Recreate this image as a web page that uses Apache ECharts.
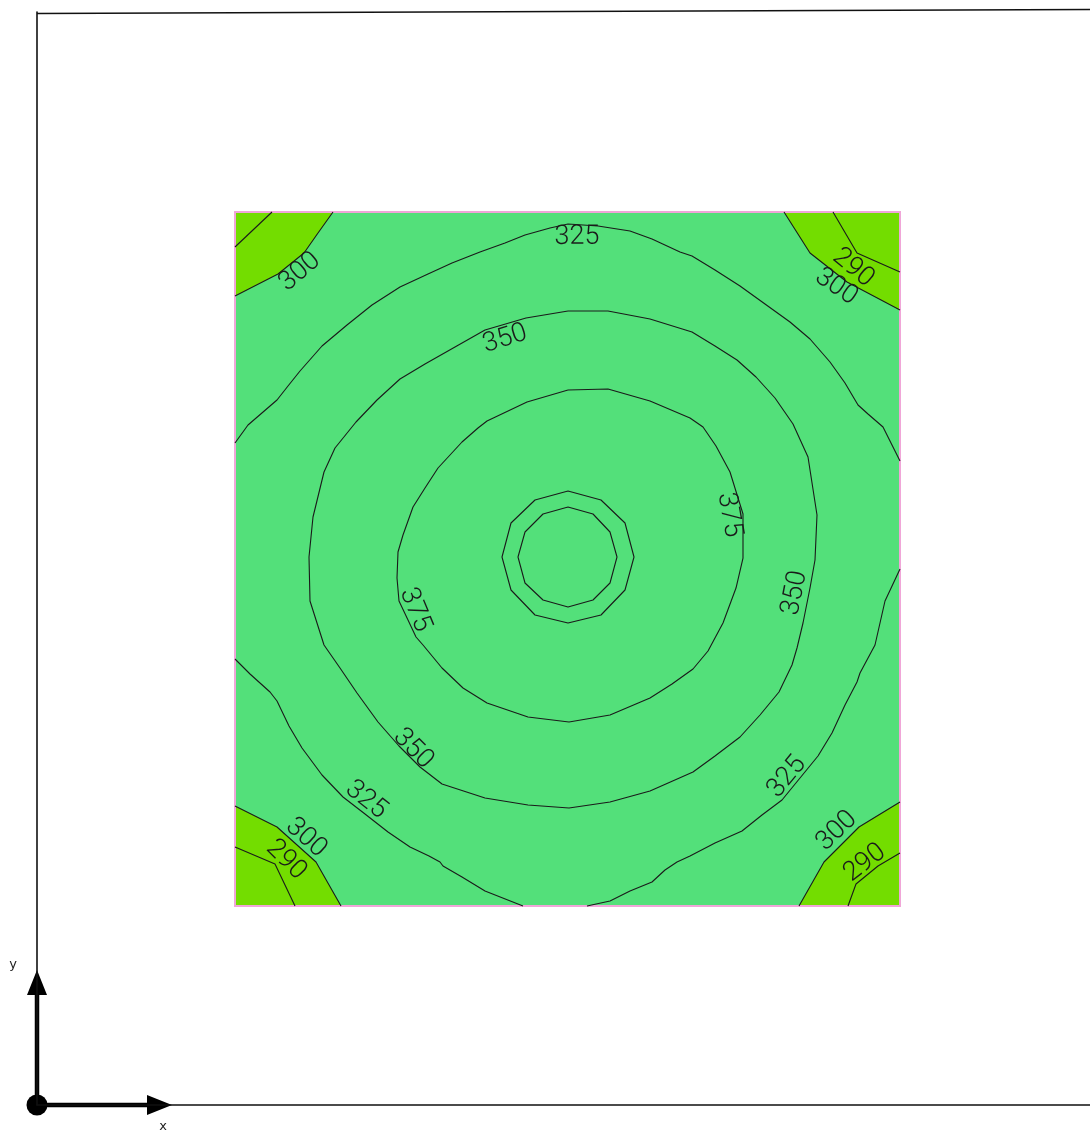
<!DOCTYPE html>
<html>
<head>
<meta charset="utf-8">
<title>Plate contour</title>
<script src="https://cdn.jsdelivr.net/npm/echarts@6/dist/echarts.min.js"></script>
<style>
  html, body { margin: 0; padding: 0; background: #ffffff; }
  #chart { width: 1090px; height: 1132px; }
</style>
</head>
<body>
<div id="chart"></div>
<script>
// ---- Model extents (model units, origin at the axis triad) ----
const viewX = [-198, 855];
const viewY = [-199, 894];
const plateWidth = 665;
const plateHeight = 694;

// ---- Contour polylines [x, y] in plate coordinates ----
const c290TopLeft = [[37,694],[0,659]];
const c300TopLeft = [[98,694],[83,673],[69,653],[43,632],[0,610]];
const c290TopRight = [[598,694],[622,653],[665,634]];
const c300TopRight = [[549,694],[575,653],[612,624],[665,596]];
const c290BottomLeft = [[0,59],[40,42],[60,0]];
const c300BottomLeft = [[0,100],[42,79],[81,44],[106,0]];
const c290BottomRight = [[613,0],[621,22],[643,40],[665,53]];
const c300BottomRight = [[564,0],[589,44],[624,79],[665,104]];

const c325Upper = [[0,463],[13,481],[42,506],[53,520],[65,535],[87,560],[112,581],[137,601],[165,619],[193,632],[217,643],[245,654],[270,663],[290,671],[315,678],[333,682],[363,680],[395,675],[417,667],[445,654],[457,650],[480,636],[505,620],[530,602],[555,584],[575,567],[595,544],[610,523],[623,501],[633,492],[648,479],[665,445]];
const c325LowerLeft = [[0,247],[15,232],[35,214],[42,205],[54,180],[67,158],[87,131],[108,109],[130,92],[153,74],[175,59],[194,50],[205,44],[208,40],[227,29],[250,15],[288,0]];
const c325LowerRight = [[352,0],[375,5],[395,15],[417,24],[430,36],[442,44],[455,50],[480,63],[507,75],[527,91],[547,106],[565,128],[583,150],[597,173],[610,201],[622,224],[625,233],[640,261],[650,305],[665,337]];

const c350 = [[333,595],[373,595],[415,587],[457,574],[480,560],[502,546],[521,529],[540,508],[558,482],[573,449],[582,391],[580,346],[575,318],[568,283],[562,258],[557,241],[544,214],[525,191],[505,169],[480,150],[458,134],[415,115],[375,104],[334,98],[293,101],[250,108],[207,122],[185,139],[164,160],[143,184],[122,213],[105,238],[89,261],[75,305],[74,349],[78,389],[89,434],[100,458],[121,484],[142,506],[165,527],[190,542],[220,559],[250,576],[291,588]];
const c375 = [[333,516],[373,517],[415,505],[455,488],[468,479],[481,460],[495,434],[508,392],[508,348],[501,318],[488,283],[473,255],[458,237],[437,222],[415,208],[375,191],[334,184],[293,189],[252,203],[228,218],[207,238],[188,261],[181,269],[173,286],[164,305],[162,328],[163,354],[168,371],[178,399],[190,418],[203,438],[227,464],[243,478],[252,485],[292,504]];
const cRingOuter = [[333,415],[366,406],[390,383],[399,349],[390,316],[366,291],[333,283],[300,291],[276,316],[267,349],[276,383],[300,406]];
const cRingInner = [[333,399],[358,392],[375,374],[382,349],[375,323],[358,306],[333,299],[308,306],[290,323],[283,349],[290,374],[308,392]];

// ---- Contour labels: level and anchor point ----
const labelLevels = [325, 300, 290, 300, 350, 375, 375, 350, 350, 325, 325, 300, 290, 300, 290];
const labelAnchors = [[342,669],[65,634],[618,638],[601,619],[270,567],[494,391],[180,296],[560,313],[178,157],[131,106],[552,129],[71,68],[51,46],[602,75],[630,43]];

// Level at which the fill colour changes
const bandBreak = 300;

const contours = [
  { level: 290, closed: false, points: c290TopLeft },
  { level: 300, closed: false, points: c300TopLeft },
  { level: 290, closed: false, points: c290TopRight },
  { level: 300, closed: false, points: c300TopRight },
  { level: 290, closed: false, points: c290BottomLeft },
  { level: 300, closed: false, points: c300BottomLeft },
  { level: 290, closed: false, points: c290BottomRight },
  { level: 300, closed: false, points: c300BottomRight },
  { level: 325, closed: false, points: c325Upper },
  { level: 325, closed: false, points: c325LowerLeft },
  { level: 325, closed: false, points: c325LowerRight },
  { level: 350, closed: true, points: c350 },
  { level: 375, closed: true, points: c375 },
  { level: 400, closed: true, points: cRingOuter },
  { level: 410, closed: true, points: cRingInner }
];

const COLOR_HIGH = '#53e07a';
const COLOR_LOW = '#73dd00';
const COLOR_EDGE = '#f0a6d8';
const COLOR_LINE = '#1a1a1a';

const chart = echarts.init(document.getElementById('chart'), null, { renderer: 'canvas' });

const plateCorners = [[0,0],[plateWidth,0],[plateWidth,plateHeight],[0,plateHeight]];

function closedPoints(c) {
  return c.closed ? c.points.concat([c.points[0]]) : c.points;
}

// Low band patches: the 300 contour closed off by the nearest plate corner
function lowPatches() {
  return contours.filter(c => c.level === bandBreak).map(c => {
    const start = c.points[0];
    let best = plateCorners[0], bd = Infinity;
    plateCorners.forEach(k => {
      const d = Math.hypot(k[0] - start[0], k[1] - start[1]);
      if (d < bd) { bd = d; best = k; }
    });
    return [best].concat(c.points);
  });
}

function renderFill(params, api) {
  const toPx = p => api.coord(p);
  const children = [];
  children.push({
    type: 'polygon',
    shape: { points: plateCorners.map(toPx) },
    style: { fill: COLOR_HIGH, stroke: null }
  });
  lowPatches().forEach(poly => {
    children.push({
      type: 'polygon',
      shape: { points: poly.map(toPx) },
      style: { fill: COLOR_LOW, stroke: null }
    });
  });
  children.push({
    type: 'polygon',
    shape: { points: plateCorners.map(toPx) },
    style: { fill: null, stroke: COLOR_EDGE, lineWidth: 2 }
  });
  return { type: 'group', children };
}

// Nearest point on a pixel polyline, returned as arc length
function nearestOnPolyline(pix, P) {
  const cum = [0];
  for (let i = 1; i < pix.length; i++) {
    cum.push(cum[i - 1] + Math.hypot(pix[i][0] - pix[i - 1][0], pix[i][1] - pix[i - 1][1]));
  }
  let bestD = Infinity, bestS = 0;
  for (let i = 0; i < pix.length - 1; i++) {
    const a = pix[i], b = pix[i + 1];
    const dx = b[0] - a[0], dy = b[1] - a[1];
    const L2 = dx * dx + dy * dy;
    let t = L2 > 0 ? ((P[0] - a[0]) * dx + (P[1] - a[1]) * dy) / L2 : 0;
    t = Math.max(0, Math.min(1, t));
    const qx = a[0] + t * dx, qy = a[1] + t * dy;
    const d = Math.hypot(P[0] - qx, P[1] - qy);
    if (d < bestD) { bestD = d; bestS = cum[i] + t * Math.sqrt(L2); }
  }
  return { d: bestD, s: bestS, cum };
}

function pointAt(pix, cum, s) {
  s = Math.max(0, Math.min(cum[cum.length - 1], s));
  for (let i = 1; i < pix.length; i++) {
    if (s <= cum[i] || i === pix.length - 1) {
      const seg = cum[i] - cum[i - 1] || 1;
      const t = (s - cum[i - 1]) / seg;
      return [pix[i - 1][0] + t * (pix[i][0] - pix[i - 1][0]), pix[i - 1][1] + t * (pix[i][1] - pix[i - 1][1])];
    }
  }
  return pix[pix.length - 1];
}

// Label follows the chord of its contour over the label's extent
function labelRotation(api, P, level) {
  let best = null;
  contours.filter(c => c.level === level).forEach(c => {
    const pix = closedPoints(c).map(p => api.coord(p));
    const n = nearestOnPolyline(pix, P);
    if (!best || n.d < best.n.d) best = { n, pix };
  });
  if (!best) return 0;
  const half = 21;
  const a = pointAt(best.pix, best.n.cum, best.n.s - half);
  const b = pointAt(best.pix, best.n.cum, best.n.s + half);
  let ang = Math.atan2(-(b[1] - a[1]), b[0] - a[0]);
  if (ang > Math.PI / 2) ang -= Math.PI;
  if (ang <= -Math.PI / 2) ang += Math.PI;
  return ang;
}

function renderLabel(params, api) {
  const level = api.value(2);
  const P = api.coord([api.value(0), api.value(1)]);
  return {
    type: 'text',
    x: P[0],
    y: P[1],
    rotation: labelRotation(api, P, level),
    style: {
      text: String(level),
      fill: COLOR_LINE,
      fontFamily: 'Roboto',
      fontWeight: 300,
      fontSize: 27,
      align: 'center',
      verticalAlign: 'middle'
    }
  };
}

const lineSeries = contours.map(c => ({
  type: 'line',
  name: String(c.level),
  data: closedPoints(c),
  showSymbol: false,
  symbol: 'none',
  silent: true,
  clip: false,
  z: 3,
  lineStyle: { color: COLOR_LINE, width: 1.1 },
  animation: false
}));

chart.setOption({
  animation: false,
  backgroundColor: '#ffffff',
  grid: { left: 37, right: 0, top: 12, bottom: 27, containLabel: false },
  xAxis: {
    type: 'value', min: viewX[0], max: viewX[1],
    axisLine: { show: true, onZero: false, lineStyle: { color: '#111', width: 1.6 } },
    axisTick: { show: false }, axisLabel: { show: false }, splitLine: { show: false }
  },
  yAxis: {
    type: 'value', min: viewY[0], max: viewY[1],
    axisLine: { show: true, onZero: false, lineStyle: { color: '#111', width: 1.6 } },
    axisTick: { show: false }, axisLabel: { show: false }, splitLine: { show: false }
  },
  series: [
    {
      type: 'custom',
      name: 'bands',
      data: [[0, 0]],
      renderItem: renderFill,
      silent: true,
      clip: false,
      z: 1
    }
  ].concat(lineSeries).concat([
    {
      type: 'custom',
      name: 'labels',
      data: labelAnchors.map((p, i) => [p[0], p[1], labelLevels[i]]),
      renderItem: renderLabel,
      silent: true,
      clip: false,
      z: 4
    }
  ])
});

// Axis triad at the model origin and the upper frame edge
const o = chart.convertToPixel({ gridIndex: 0 }, [viewX[0], viewY[0]]);
const ox = o[0], oy = o[1];
chart.setOption({
  graphic: [
    { type: 'line', shape: { x1: ox, y1: 13.5, x2: 1090, y2: 9.5 }, style: { stroke: '#111', lineWidth: 1.6 }, silent: true },
    { type: 'line', shape: { x1: ox, y1: oy, x2: ox + 112, y2: oy }, style: { stroke: '#000', lineWidth: 4.5 }, silent: true },
    { type: 'polygon', shape: { points: [[ox + 110, oy - 10], [ox + 135, oy], [ox + 110, oy + 10]] }, style: { fill: '#000' }, silent: true },
    { type: 'line', shape: { x1: ox, y1: oy, x2: ox, y2: oy - 112 }, style: { stroke: '#000', lineWidth: 4.5 }, silent: true },
    { type: 'polygon', shape: { points: [[ox - 10, oy - 110], [ox, oy - 135], [ox + 10, oy - 110]] }, style: { fill: '#000' }, silent: true },
    { type: 'circle', shape: { cx: ox, cy: oy, r: 10.5 }, style: { fill: '#000' }, silent: true },
    { type: 'text', x: ox + 126, y: oy + 22, style: { text: 'x', fontFamily: 'DejaVu Sans', fontSize: 13, fill: '#222', align: 'center', verticalAlign: 'middle' }, silent: true },
    { type: 'text', x: ox - 24, y: oy - 140, style: { text: 'y', fontFamily: 'DejaVu Sans', fontSize: 13, fill: '#222', align: 'center', verticalAlign: 'middle' }, silent: true }
  ]
});
</script>
</body>
</html>
